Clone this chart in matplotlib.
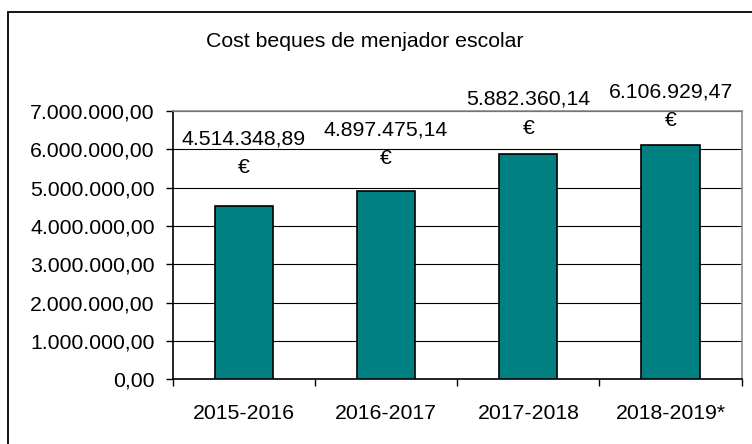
import matplotlib
matplotlib.use('Agg')
import matplotlib.pyplot as plt
from matplotlib.patches import Rectangle
from matplotlib.ticker import FuncFormatter, FixedLocator

# Chart data
years = ['2015-2016', '2016-2017', '2017-2018', '2018-2019*']
costs = [4514348.89, 4897475.14, 5882360.14, 6106929.47]
cost_labels = ['4.514.348,89\n€', '4.897.475,14\n€', '5.882.360,14\n€', '6.106.929,47\n€']
title = 'Cost beques de menjador escolar'

# label lift above each bar top, in pixels (Excel nudges them)
label_lift = [53, 47, 40, 39]

plt.rcParams['font.family'] = ['Liberation Sans', 'DejaVu Sans']
fs = 15.3

fig = plt.figure(figsize=(7.52, 4.44), dpi=100)
ax = fig.add_axes([0.2297, 0.1457, 0.7566, 0.6047])

x = list(range(len(years)))
ax.bar(x, costs, width=0.41, color='#008080', edgecolor='black', linewidth=1.2, zorder=3)

ax.set_xlim(-0.5, len(years) - 0.5)
ax.set_ylim(0, 7000000)
ax.set_yticks([i * 1000000 for i in range(8)])

def euro_fmt(v, pos):
    s = '{:,.2f}'.format(v)
    return s.replace(',', 'X').replace('.', ',').replace('X', '.')

ax.yaxis.set_major_formatter(FuncFormatter(euro_fmt))
ax.yaxis.grid(True, color='black', linewidth=0.8, zorder=1)

ax.set_xticks(x)
ax.set_xticklabels(years)
ax.xaxis.set_minor_locator(FixedLocator([i - 0.5 for i in range(len(years) + 1)]))
ax.tick_params(axis='x', which='major', length=0, pad=18, labelsize=fs)
ax.tick_params(axis='x', which='minor', length=5, width=1, direction='out')
ax.tick_params(axis='y', length=5, width=1, direction='out', pad=8, labelsize=fs)

for side in ['left', 'bottom']:
    ax.spines[side].set_color('black')
    ax.spines[side].set_linewidth(1.2)
for side in ['top', 'right']:
    ax.spines[side].set_color('#8c8c8c')
    ax.spines[side].set_linewidth(1.2)

for xi, val, lab, lift in zip(x, costs, cost_labels, label_lift):
    ax.annotate(lab, xy=(xi, val), xytext=(0, lift), textcoords='offset pixels',
                ha='center', va='center', fontsize=fs, linespacing=1.65,
                annotation_clip=False)

fig.text(0.485, 0.906, title, ha='center', va='center', fontsize=fs)

# outer chart border (cut off at right and bottom)
fig.patches.append(Rectangle((7.5 / 752, -0.1), 1.2, 1 - 12 / 444 + 0.1,
                             transform=fig.transFigure, fill=False,
                             edgecolor='black', linewidth=1.3))

plt.savefig('out.png', dpi=100)
